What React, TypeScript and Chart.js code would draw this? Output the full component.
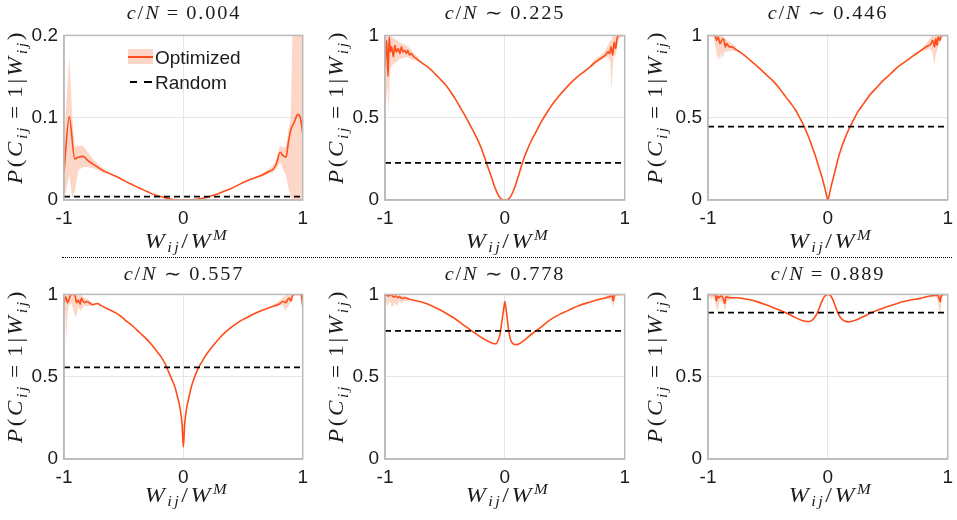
import React, { useEffect, useRef } from "react";
import { Chart, registerables } from "chart.js";

Chart.register(...registerables);

// ---------------- tick labels ----------------
const xTickValues = [-1, 0, 1];
const xTickLabels = ["-1", "0", "1"];
const yTickValuesFirst = [0, 0.1, 0.2];
const yTickLabelsFirst = ["0", "0.1", "0.2"];
const yTickValuesOther = [0, 0.5, 1];
const yTickLabelsOther = ["0", "0.5", "1"];

// ---------------- panel titles ----------------
const titleRelations = ["=", "\u223C", "\u223C", "\u223C", "\u223C", "="];
const titleValues = ["0.004", "0.225", "0.446", "0.557", "0.778", "0.889"];

// Random baseline level per panel (c/N)
const randomLevels = [0.004, 0.225, 0.446, 0.557, 0.778, 0.889];

const legendLabels = ["Optimized", "Random"];

// ---------------- panel 1 : c/N = 0.004 ----------------
const p1X = [-1, -0.956, -0.91, -0.88, -0.84, -0.8, -0.74, -0.676, -0.6, -0.54, -0.45, -0.374, -0.3, -0.236, -0.16, -0.1, -0.05, 0, 0.06, 0.12, 0.19, 0.26, 0.33, 0.4, 0.47, 0.53, 0.6, 0.67, 0.72, 0.75, 0.78, 0.81, 0.835, 0.86, 0.88, 0.9, 0.93, 0.96, 0.98, 1];
const p1Y = [0.034, 0.101, 0.05, 0.052, 0.053, 0.048, 0.042, 0.036, 0.031, 0.027, 0.02, 0.015, 0.01, 0.006, 0.003, 0.001, 0.0003, 0, 0.0003, 0.001, 0.003, 0.006, 0.01, 0.014, 0.019, 0.023, 0.027, 0.031, 0.035, 0.037, 0.044, 0.058, 0.054, 0.052, 0.07, 0.085, 0.095, 0.104, 0.1, 0.082];
const p1BandLX = [-1, -0.956, -0.93, -0.91, -0.88, -0.84, -0.8, -0.74, -0.676, -0.6];
const p1BandLLo = [0.0, 0.03, 0.003, 0.01, 0.036, 0.04, 0.04, 0.038, 0.033, 0.03];
const p1BandLHi = [0.07, 0.175, 0.1, 0.065, 0.066, 0.066, 0.058, 0.047, 0.039, 0.032];
const p1BandRX = [0.6, 0.67, 0.72, 0.75, 0.78, 0.81, 0.835, 0.86, 0.88, 0.9, 0.92, 1];
const p1BandRLo = [0.026, 0.029, 0.032, 0.033, 0.038, 0.046, 0.038, 0.03, 0.015, 0.003, 0.0, 0.0];
const p1BandRHi = [0.028, 0.033, 0.038, 0.042, 0.05, 0.066, 0.064, 0.065, 0.085, 0.1, 0.25, 0.25];

// ---------------- panel 2 : c/N ~ 0.225 ----------------
const p2X = [-1, -0.986, -0.975, -0.965, -0.955, -0.945, -0.93, -0.918, -0.905, -0.89, -0.875, -0.863, -0.85, -0.836, -0.82, -0.81, -0.795, -0.78, -0.76, -0.74, -0.686, -0.63, -0.58, -0.54, -0.495, -0.45, -0.41, -0.37, -0.33, -0.29, -0.25, -0.22, -0.194, -0.165, -0.14, -0.11, -0.085, -0.065, -0.044, -0.022, 0, 0.022, 0.044, 0.068, 0.093, 0.114, 0.134, 0.16, 0.19, 0.22, 0.257, 0.3, 0.35, 0.4, 0.46, 0.51, 0.57, 0.62, 0.68, 0.72, 0.76, 0.79, 0.82, 0.845, 0.86, 0.875, 0.885, 0.893, 0.9, 0.912, 0.92, 0.926, 0.933, 0.94, 0.95, 1];
const p2Y = [0.81, 0.97, 0.75, 0.99, 0.9, 0.93, 0.87, 0.94, 0.9, 0.92, 0.89, 0.93, 0.9, 0.91, 0.89, 0.91, 0.88, 0.89, 0.87, 0.86, 0.83, 0.8, 0.765, 0.735, 0.7, 0.655, 0.61, 0.56, 0.51, 0.455, 0.4, 0.355, 0.31, 0.25, 0.196, 0.135, 0.08, 0.045, 0.016, 0.003, 0, 0.003, 0.016, 0.05, 0.1, 0.148, 0.196, 0.255, 0.31, 0.36, 0.41, 0.47, 0.53, 0.585, 0.64, 0.68, 0.725, 0.757, 0.79, 0.815, 0.84, 0.855, 0.87, 0.885, 0.9, 0.89, 0.93, 0.91, 0.88, 0.96, 0.93, 0.92, 0.97, 0.99, 1.0, 1.0];
const p2BandLX = [-1, -0.99, -0.98, -0.97, -0.96, -0.95, -0.94, -0.92, -0.9, -0.88, -0.85, -0.82, -0.79, -0.76, -0.72];
const p2BandLLo = [0.7, 0.6, 0.7, 0.51, 0.75, 0.8, 0.82, 0.83, 0.84, 0.86, 0.86, 0.87, 0.86, 0.85, 0.84];
const p2BandLHi = [0.85, 1.0, 1.0, 1.0, 1.0, 1.0, 0.99, 0.98, 0.97, 0.96, 0.95, 0.94, 0.92, 0.89, 0.87];
const p2BandRX = [0.72, 0.76, 0.8, 0.83, 0.86, 0.88, 0.89, 0.9, 0.91, 0.92, 0.93, 0.94, 0.95, 0.97, 1];
const p2BandRLo = [0.8, 0.83, 0.85, 0.86, 0.87, 0.84, 0.66, 0.8, 0.88, 0.87, 0.9, 0.94, 0.97, 1.0, 1.0];
const p2BandRHi = [0.83, 0.86, 0.88, 0.9, 0.94, 0.97, 0.97, 1.0, 1.0, 1.0, 1.0, 1.0, 1.0, 1.0, 1.0];

// ---------------- panel 3 : c/N ~ 0.446 ----------------
const p3X = [-1, -0.94, -0.93, -0.915, -0.9, -0.885, -0.87, -0.855, -0.845, -0.82, -0.8, -0.77, -0.735, -0.69, -0.65, -0.61, -0.57, -0.52, -0.46, -0.4, -0.35, -0.31, -0.27, -0.235, -0.2, -0.165, -0.134, -0.105, -0.08, -0.06, -0.04, -0.025, -0.01, 0, 0.01, 0.025, 0.044, 0.065, 0.085, 0.11, 0.14, 0.175, 0.21, 0.25, 0.3, 0.35, 0.41, 0.46, 0.52, 0.57, 0.63, 0.69, 0.74, 0.78, 0.82, 0.86, 0.875, 0.89, 0.9, 0.91, 0.92, 0.935, 0.945, 1];
const p3Y = [1, 1, 0.97, 0.99, 0.95, 0.97, 0.98, 0.93, 0.95, 0.93, 0.93, 0.915, 0.9, 0.876, 0.85, 0.826, 0.8, 0.765, 0.725, 0.675, 0.625, 0.588, 0.547, 0.5, 0.45, 0.39, 0.33, 0.27, 0.21, 0.165, 0.114, 0.072, 0.025, 0, 0.025, 0.075, 0.13, 0.19, 0.25, 0.31, 0.37, 0.43, 0.48, 0.535, 0.587, 0.638, 0.685, 0.725, 0.764, 0.8, 0.833, 0.864, 0.89, 0.91, 0.93, 0.95, 0.97, 0.93, 0.98, 0.94, 0.99, 0.97, 1, 1];
const p3BandLX = [-0.95, -0.93, -0.92, -0.91, -0.9, -0.89, -0.88, -0.86, -0.84, -0.8, -0.76];
const p3BandLLo = [0.97, 0.9, 0.85, 0.88, 0.84, 0.9, 0.86, 0.9, 0.9, 0.91, 0.9];
const p3BandLHi = [1, 1, 1, 1, 1, 1, 1, 0.98, 0.97, 0.95, 0.93];
const p3BandRX = [0.78, 0.82, 0.85, 0.87, 0.88, 0.89, 0.9, 0.91, 0.92, 0.94, 0.96];
const p3BandRLo = [0.9, 0.91, 0.92, 0.9, 0.86, 0.82, 0.88, 0.9, 0.93, 0.96, 1.0];
const p3BandRHi = [0.92, 0.95, 0.98, 1, 1, 1, 1, 1, 1, 1, 1];

// ---------------- panel 4 : c/N ~ 0.557 ----------------
const p4X = [-1, -0.985, -0.97, -0.955, -0.94, -0.91, -0.895, -0.88, -0.865, -0.855, -0.83, -0.81, -0.76, -0.72, -0.7, -0.65, -0.61, -0.566, -0.52, -0.48, -0.42, -0.37, -0.31, -0.26, -0.22, -0.18, -0.15, -0.126, -0.1, -0.07, -0.05, -0.03, -0.018, -0.01, 0, 0.01, 0.018, 0.03, 0.05, 0.066, 0.09, 0.12, 0.16, 0.2, 0.25, 0.31, 0.36, 0.42, 0.47, 0.53, 0.58, 0.64, 0.7, 0.75, 0.8, 0.835, 0.86, 0.875, 0.89, 0.9, 0.92, 0.96, 0.985, 1];
const p4Y = [0.947, 0.985, 0.95, 0.975, 1.0, 1.0, 0.95, 0.966, 0.94, 0.976, 0.95, 0.957, 0.937, 0.945, 0.937, 0.917, 0.904, 0.888, 0.865, 0.839, 0.805, 0.77, 0.73, 0.69, 0.652, 0.613, 0.575, 0.534, 0.49, 0.436, 0.38, 0.318, 0.26, 0.2, 0.073, 0.2, 0.26, 0.318, 0.385, 0.436, 0.49, 0.544, 0.596, 0.642, 0.69, 0.74, 0.775, 0.81, 0.835, 0.858, 0.878, 0.898, 0.915, 0.927, 0.94, 0.957, 0.95, 0.97, 0.976, 0.96, 1.0, 1.0, 1.0, 0.93];
const p4BandLX = [-1, -0.99, -0.98, -0.97, -0.96, -0.94, -0.92, -0.9, -0.88, -0.86, -0.83, -0.8, -0.76];
const p4BandLLo = [0.85, 0.9, 0.71, 0.88, 0.93, 0.95, 0.9, 0.86, 0.92, 0.9, 0.93, 0.93, 0.93];
const p4BandLHi = [1, 1, 1, 1, 1, 1, 1, 1, 1, 1, 0.98, 0.97, 0.95];
const p4BandRX = [0.76, 0.8, 0.83, 0.85, 0.87, 0.89, 0.91, 0.95, 0.99, 1];
const p4BandRLo = [0.92, 0.93, 0.94, 0.9, 0.92, 0.94, 0.99, 1.0, 1.0, 0.71];
const p4BandRHi = [0.94, 0.96, 0.98, 0.99, 1, 1, 1, 1, 1, 1];

// ---------------- panel 5 : c/N ~ 0.778 ----------------
const p5X = [-1, -0.97, -0.95, -0.93, -0.91, -0.89, -0.877, -0.86, -0.84, -0.795, -0.76, -0.713, -0.67, -0.63, -0.58, -0.52, -0.46, -0.41, -0.35, -0.3, -0.26, -0.22, -0.18, -0.14, -0.11, -0.085, -0.07, -0.057, -0.04, -0.03, -0.02, -0.01, 0, 0.01, 0.02, 0.03, 0.04, 0.05, 0.07, 0.093, 0.12, 0.16, 0.2, 0.243, 0.3, 0.35, 0.4, 0.46, 0.52, 0.57, 0.62, 0.68, 0.74, 0.79, 0.84, 0.87, 0.895, 0.905, 0.915, 0.93, 1];
const p5Y = [1.0, 0.99, 1.0, 0.985, 0.99, 0.98, 0.986, 0.975, 0.98, 0.97, 0.965, 0.957, 0.948, 0.937, 0.92, 0.898, 0.872, 0.849, 0.817, 0.79, 0.77, 0.75, 0.732, 0.715, 0.705, 0.7, 0.702, 0.72, 0.76, 0.81, 0.86, 0.91, 0.957, 0.91, 0.85, 0.79, 0.75, 0.72, 0.7, 0.695, 0.7, 0.72, 0.745, 0.77, 0.8, 0.83, 0.856, 0.88, 0.9, 0.917, 0.932, 0.947, 0.96, 0.97, 0.978, 0.986, 0.99, 0.96, 1.0, 1.0, 1.0];
const p5BandLX = [-1, -0.98, -0.96, -0.94, -0.92, -0.9, -0.88, -0.86, -0.83, -0.8];
const p5BandLLo = [0.97, 0.93, 0.96, 0.92, 0.95, 0.93, 0.96, 0.95, 0.96, 0.96];
const p5BandLHi = [1, 1, 1, 1, 1, 1, 1, 0.99, 0.99, 0.98];
const p5BandRX = [0.84, 0.87, 0.89, 0.905, 0.92, 0.95, 1];
const p5BandRLo = [0.97, 0.97, 0.96, 0.92, 0.98, 1.0, 1.0];
const p5BandRHi = [0.99, 1, 1, 1, 1, 1, 1];

// ---------------- panel 6 : c/N = 0.889 ----------------
const p6X = [-1, -0.94, -0.93, -0.92, -0.91, -0.89, -0.87, -0.86, -0.85, -0.82, -0.76, -0.7, -0.65, -0.58, -0.516, -0.45, -0.38, -0.32, -0.27, -0.22, -0.175, -0.145, -0.12, -0.09, -0.066, -0.045, -0.025, -0.01, 0, 0.01, 0.025, 0.045, 0.063, 0.085, 0.112, 0.14, 0.167, 0.2, 0.25, 0.3, 0.36, 0.43, 0.5, 0.57, 0.63, 0.7, 0.77, 0.85, 0.92, 0.93, 0.937, 0.945, 0.96, 1];
const p6Y = [1, 1, 0.96, 0.99, 0.98, 0.99, 0.97, 0.945, 0.985, 0.98, 0.98, 0.974, 0.967, 0.953, 0.937, 0.918, 0.898, 0.878, 0.859, 0.843, 0.835, 0.837, 0.85, 0.885, 0.927, 0.965, 0.99, 0.998, 1.0, 0.998, 0.99, 0.962, 0.927, 0.885, 0.853, 0.838, 0.833, 0.837, 0.849, 0.866, 0.888, 0.908, 0.927, 0.943, 0.957, 0.967, 0.976, 0.99, 0.995, 0.97, 0.955, 0.99, 1, 1];
const p6BandLX = [-1, -0.97, -0.95, -0.93, -0.92, -0.9, -0.87, -0.86, -0.84, -0.8];
const p6BandLLo = [0.99, 0.97, 0.98, 0.92, 0.9, 0.96, 0.94, 0.89, 0.96, 0.97];
const p6BandLHi = [1, 1, 1, 1, 1, 1, 1, 1, 1, 0.99];
const p6BandRX = [0.86, 0.9, 0.92, 0.935, 0.95, 0.97, 1];
const p6BandRLo = [0.98, 0.99, 0.95, 0.86, 0.97, 1, 1];
const p6BandRHi = [1, 1, 1, 1, 1, 1, 1];

type Band = [number[], number[], number[]];
interface PanelDef {
  x: number[];
  y: number[];
  bands: Band[];
  yTicks: number[];
  yLabels: string[];
}

const panels: PanelDef[] = [
  { x: p1X, y: p1Y, bands: [[p1BandLX, p1BandLLo, p1BandLHi], [p1BandRX, p1BandRLo, p1BandRHi]], yTicks: yTickValuesFirst, yLabels: yTickLabelsFirst },
  { x: p2X, y: p2Y, bands: [[p2BandLX, p2BandLLo, p2BandLHi], [p2BandRX, p2BandRLo, p2BandRHi]], yTicks: yTickValuesOther, yLabels: yTickLabelsOther },
  { x: p3X, y: p3Y, bands: [[p3BandLX, p3BandLLo, p3BandLHi], [p3BandRX, p3BandRLo, p3BandRHi]], yTicks: yTickValuesOther, yLabels: yTickLabelsOther },
  { x: p4X, y: p4Y, bands: [[p4BandLX, p4BandLLo, p4BandLHi], [p4BandRX, p4BandRLo, p4BandRHi]], yTicks: yTickValuesOther, yLabels: yTickLabelsOther },
  { x: p5X, y: p5Y, bands: [[p5BandLX, p5BandLLo, p5BandLHi], [p5BandRX, p5BandRLo, p5BandRHi]], yTicks: yTickValuesOther, yLabels: yTickLabelsOther },
  { x: p6X, y: p6Y, bands: [[p6BandLX, p6BandLLo, p6BandLHi], [p6BandRX, p6BandRLo, p6BandRHi]], yTicks: yTickValuesOther, yLabels: yTickLabelsOther },
];

// ---------------- layout & style ----------------
const COLS = [
  { l: 64, r: 307 },
  { l: 385, r: 629 },
  { l: 708, r: 952 },
];
const ROWS = [
  { t: 30, b: 200 },
  { t: 289, b: 459 },
];
const AX_W = 60;
const AX_H = 34;
const PAD_T = 12;
const PAD_R = 8;

const LINE_COLOR = "#ff4d1a";
const BAND_COLOR = "rgba(250, 175, 145, 0.5)";
const GRID_COLOR = "#e6e6e6";
const BOX_COLOR = "#bababa";
const SANS = "'Liberation Sans', Arial, sans-serif";
const SERIF = "'Liberation Serif', serif";
const TICK_SIZE = 19;
const TEXT_COLOR = "#1c1c1c";

const TITLE_SIZE = 18.5;
const TITLE_SX = 1.1;
const TITLE_LS = "1.7px";
const XLAB_SIZE = 22;
const XLAB_SX = 1.1;
const XLAB_LS = "2.2px";
const YLAB_SIZE = 21;
const YLAB_SX = 1.1;
const YLAB_LS = "2.4px";
const titleBaselines = [20, 281];
const xLabelBaselines = [248, 502];
const yLabelCenterX = [15, 336, 655];
const yLabelCenterYOffset = -8;

const boxPlugin = {
  id: "boxFrame",
  afterDatasetsDraw(chart: any) {
    const { ctx, chartArea: a } = chart;
    ctx.save();
    ctx.strokeStyle = BOX_COLOR;
    ctx.lineWidth = 1.5;
    ctx.strokeRect(a.left, a.top, a.right - a.left, a.bottom - a.top);
    ctx.restore();
  },
};

function PanelChart({ i }: { i: number }) {
  const ref = useRef<HTMLCanvasElement>(null);
  const p = panels[i];
  const col = COLS[i % 3];
  const row = ROWS[Math.floor(i / 3)];
  const W = col.r - col.l;
  const H = row.b - row.t;
  const cw = W + AX_W + PAD_R;
  const ch = H + PAD_T + AX_H;

  useEffect(() => {
    const datasets: any[] = [];
    datasets.push({
      label: legendLabels[1],
      data: [
        { x: xTickValues[0], y: randomLevels[i] },
        { x: xTickValues[xTickValues.length - 1], y: randomLevels[i] },
      ],
      borderColor: "#000",
      borderWidth: 1.8,
      borderDash: [6, 4],
      pointRadius: 0,
      fill: false,
    });
    datasets.push({
      label: legendLabels[0],
      data: p.x.map((x, k) => ({ x, y: p.y[k] })),
      borderColor: LINE_COLOR,
      borderWidth: 1.6,
      pointRadius: 0,
      cubicInterpolationMode: "monotone",
      fill: false,
    });
    p.bands.forEach(([bx, lo, hi]) => {
      datasets.push({
        data: bx.map((x, k) => ({ x, y: lo[k] })),
        borderColor: "rgba(0,0,0,0)",
        borderWidth: 0,
        pointRadius: 0,
        tension: 0,
        fill: false,
      });
      datasets.push({
        data: bx.map((x, k) => ({ x, y: hi[k] })),
        borderColor: "rgba(0,0,0,0)",
        borderWidth: 0,
        pointRadius: 0,
        tension: 0,
        fill: "-1",
        backgroundColor: BAND_COLOR,
      });
    });

    const tickFont = { family: SANS, size: TICK_SIZE };
    const chart = new Chart(ref.current as HTMLCanvasElement, {
      type: "line",
      data: { datasets },
      options: {
        animation: false,
        responsive: false,
        events: [],
        layout: { padding: { top: PAD_T, right: PAD_R, left: 0, bottom: 0 } },
        plugins: { legend: { display: false }, tooltip: { enabled: false } },
        scales: {
          x: {
            type: "linear",
            min: xTickValues[0],
            max: xTickValues[xTickValues.length - 1],
            afterBuildTicks: (s: any) => {
              s.ticks = xTickValues.map((v) => ({ value: v }));
            },
            afterFit: (s: any) => {
              s.height = AX_H;
            },
            ticks: {
              callback: (v: any) => {
                const k = xTickValues.indexOf(Number(v));
                return k >= 0 ? xTickLabels[k] : "";
              },
              font: tickFont,
              color: TEXT_COLOR,
              padding: 7,
              maxRotation: 0,
              autoSkip: false,
            },
            grid: { color: GRID_COLOR, drawTicks: false, lineWidth: 1 },
            border: { color: BOX_COLOR, width: 1.5 },
          },
          y: {
            type: "linear",
            min: p.yTicks[0],
            max: p.yTicks[p.yTicks.length - 1],
            afterBuildTicks: (s: any) => {
              s.ticks = p.yTicks.map((v) => ({ value: v }));
            },
            afterFit: (s: any) => {
              s.width = AX_W;
            },
            ticks: {
              callback: (v: any) => {
                const k = p.yTicks.indexOf(Number(v));
                return k >= 0 ? p.yLabels[k] : "";
              },
              font: tickFont,
              color: TEXT_COLOR,
              padding: 6,
              autoSkip: false,
            },
            grid: { color: GRID_COLOR, drawTicks: false, lineWidth: 1 },
            border: { color: BOX_COLOR, width: 1.5 },
          },
        },
      },
      plugins: [boxPlugin],
    } as any);
    return () => chart.destroy();
  }, []);

  return (
    <canvas
      ref={ref}
      width={cw}
      height={ch}
      style={{ position: "absolute", left: col.l - AX_W, top: row.t - PAD_T, width: cw, height: ch }}
    />
  );
}

const subStyle: React.CSSProperties = { fontSize: "0.68em", position: "relative", top: "0.32em", fontStyle: "italic" };
const supStyle: React.CSSProperties = { fontSize: "0.68em", position: "relative", top: "-0.5em", fontStyle: "italic" };

function PanelLabels({ i }: { i: number }) {
  const col = COLS[i % 3];
  const rIdx = Math.floor(i / 3);
  const row = ROWS[rIdx];
  const cx = (col.l + col.r) / 2;
  const cy = (row.t + row.b) / 2 + yLabelCenterYOffset;
  return (
    <>
      <div
        style={{
          position: "absolute",
          left: cx - 2 - 120,
          width: 240,
          top: titleBaselines[rIdx] - 0.84 * TITLE_SIZE,
          fontFamily: SERIF,
          fontWeight: 400,
          fontSize: TITLE_SIZE,
          lineHeight: `${TITLE_SIZE}px`,
          letterSpacing: TITLE_LS,
          textAlign: "center",
          whiteSpace: "nowrap",
          color: TEXT_COLOR,
          transform: `scaleX(${TITLE_SX})`,
        }}
      >
        <i>c</i>/<i>N</i>
        <span style={{ margin: "0 0.3em" }}>{titleRelations[i]}</span>
        {titleValues[i]}
      </div>
      <div
        style={{
          position: "absolute",
          left: cx + 1 - 120,
          width: 240,
          top: xLabelBaselines[rIdx] - 0.84 * XLAB_SIZE,
          fontFamily: SERIF,
          fontWeight: 400,
          fontSize: XLAB_SIZE,
          lineHeight: `${XLAB_SIZE}px`,
          letterSpacing: XLAB_LS,
          textAlign: "center",
          whiteSpace: "nowrap",
          color: TEXT_COLOR,
          transform: `scaleX(${XLAB_SX})`,
        }}
      >
        <i>W</i>
        <span style={subStyle}>ij</span>/<i>W</i>
        <span style={supStyle}>M</span>
      </div>
      <div
        style={{
          position: "absolute",
          left: yLabelCenterX[i % 3] - 150,
          width: 300,
          top: cy - 13,
          height: 26,
          fontFamily: SERIF,
          fontWeight: 400,
          fontSize: YLAB_SIZE,
          lineHeight: "26px",
          letterSpacing: YLAB_LS,
          textAlign: "center",
          whiteSpace: "nowrap",
          color: TEXT_COLOR,
          transform: `rotate(-90deg) scaleX(${YLAB_SX})`,
        }}
      >
        <i>P</i>(<i>C</i>
        <span style={subStyle}>ij</span>
        <span style={{ margin: "0 0.25em" }}>=</span>1|<i>W</i>
        <span style={subStyle}>ij</span>)
      </div>
    </>
  );
}

function Legend() {
  return (
    <>
      <div style={{ position: "absolute", left: 128, top: 49, width: 25, height: 15, background: BAND_COLOR }} />
      <div style={{ position: "absolute", left: 128, top: 56, width: 25, height: 2, background: LINE_COLOR }} />
      <div style={{ position: "absolute", left: 155, top: 57 - 9.5, fontFamily: SANS, fontSize: 19, lineHeight: "19px", color: TEXT_COLOR, whiteSpace: "nowrap" }}>
        {legendLabels[0]}
      </div>
      <div style={{ position: "absolute", left: 130, top: 81, width: 7, height: 2, background: "#000" }} />
      <div style={{ position: "absolute", left: 144, top: 81, width: 8, height: 2, background: "#000" }} />
      <div style={{ position: "absolute", left: 155, top: 82 - 9.5, fontFamily: SANS, fontSize: 19, lineHeight: "19px", color: TEXT_COLOR, whiteSpace: "nowrap" }}>
        {legendLabels[1]}
      </div>
    </>
  );
}

export default function App() {
  return (
    <div style={{ position: "fixed", left: 0, top: 0, width: 957, height: 520, overflow: "hidden", background: "#fff" }}>
      {panels.map((_, i) => (
        <PanelChart key={"c" + i} i={i} />
      ))}
      {panels.map((_, i) => (
        <PanelLabels key={"l" + i} i={i} />
      ))}
      <Legend />
      <div style={{ position: "absolute", left: 62, top: 257, width: 890, height: 0, borderTop: "1.5px dotted #000" }} />
    </div>
  );
}
